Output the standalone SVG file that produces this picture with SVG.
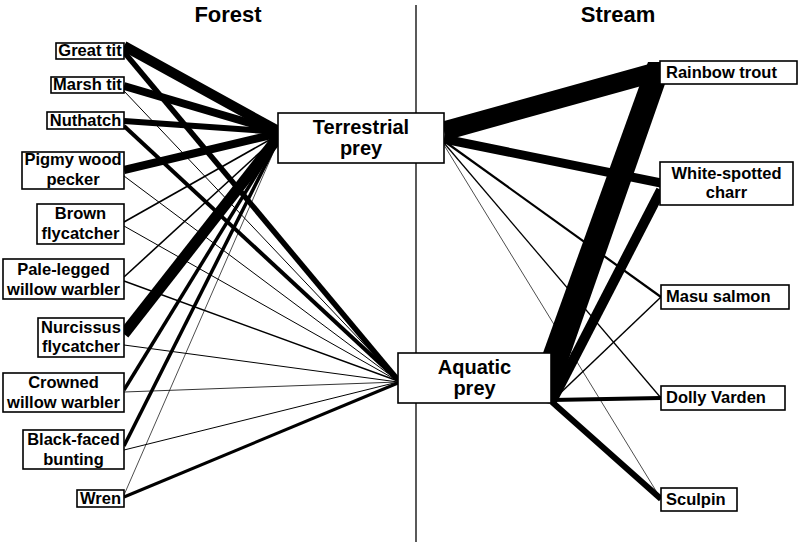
<svg xmlns="http://www.w3.org/2000/svg" width="800" height="548" viewBox="0 0 800 548">
<style>
.bx{fill:#fff;stroke:#000;stroke-width:1.6}
.t{font-family:"Liberation Sans",Arial,sans-serif;font-weight:bold;font-size:16.5px;fill:#000}
.c{text-anchor:middle}
.h{font-family:"Liberation Sans",Arial,sans-serif;font-weight:bold;font-size:22px;text-anchor:middle}
.p{font-family:"Liberation Sans",Arial,sans-serif;font-weight:bold;font-size:20px;text-anchor:middle}
#links line{stroke:#000;stroke-linecap:butt}
</style>
<rect width="800" height="548" fill="#fff"/>
<text class="h" x="228" y="22">Forest</text>
<text class="h" x="618" y="22">Stream</text>
<line x1="416" y1="5" x2="416" y2="542" stroke="#000" stroke-width="1.3"/>
<g id="links">
<!-- to Terrestrial -->
<line x1="124" y1="46" x2="280" y2="132" stroke-width="10"/>
<line x1="124" y1="86" x2="280" y2="132" stroke-width="8"/>
<line x1="124" y1="121" x2="280" y2="132" stroke-width="6"/>
<line x1="124" y1="170" x2="280" y2="133" stroke-width="8"/>
<line x1="124" y1="222" x2="280" y2="134" stroke-width="1.6"/>
<line x1="124" y1="277" x2="280" y2="134" stroke-width="1.6"/>
<line x1="124" y1="334" x2="280" y2="135" stroke-width="11"/>
<line x1="124" y1="390" x2="280" y2="136" stroke-width="3.5"/>
<line x1="124" y1="446" x2="280" y2="136" stroke-width="3.5"/>
<line x1="124" y1="495" x2="280" y2="137" stroke-width="0.7"/>
<!-- to Aquatic -->
<line x1="124" y1="52" x2="398" y2="380" stroke-width="5.5"/>
<line x1="124" y1="91" x2="398" y2="380" stroke-width="1"/>
<line x1="124" y1="126" x2="398" y2="380" stroke-width="4"/>
<line x1="124" y1="176" x2="398" y2="381" stroke-width="1"/>
<line x1="124" y1="226" x2="398" y2="381" stroke-width="1"/>
<line x1="124" y1="281" x2="398" y2="381" stroke-width="1.4"/>
<line x1="124" y1="345" x2="398" y2="382" stroke-width="1"/>
<line x1="124" y1="392" x2="398" y2="382" stroke-width="0.8"/>
<line x1="124" y1="450" x2="398" y2="382" stroke-width="1"/>
<line x1="124" y1="497" x2="398" y2="383" stroke-width="3"/>
<!-- Terrestrial to fish -->
<line x1="444" y1="131" x2="656" y2="72" stroke-width="19"/>
<line x1="444" y1="139" x2="661" y2="183" stroke-width="9"/>
<line x1="444" y1="141" x2="661" y2="297" stroke-width="2.2"/>
<line x1="444" y1="143" x2="661" y2="398" stroke-width="1.3"/>
<line x1="444" y1="145" x2="661" y2="499" stroke-width="0.7"/>
<!-- Aquatic to fish -->
<polygon points="526,400 553,404 665,84 660,62 648,62" fill="#000"/>
<line x1="552" y1="401" x2="661" y2="190" stroke-width="10"/>
<line x1="552" y1="401" x2="661" y2="297" stroke-width="1.5"/>
<line x1="552" y1="400" x2="661" y2="398" stroke-width="4"/>
<line x1="552" y1="402" x2="661" y2="499" stroke-width="6"/>
</g>
<g id="great-tit"><rect class="bx" x="56" y="43" width="68" height="16"/><text class="t c" x="90" y="56">Great tit</text></g>
<g id="marsh-tit"><rect class="bx" x="51" y="77" width="73" height="16"/><text class="t c" x="87.5" y="90">Marsh tit</text></g>
<g id="nuthatch"><rect class="bx" x="47" y="112" width="77" height="17"/><text class="t c" x="85.5" y="126">Nuthatch</text></g>
<g id="pigmy"><rect class="bx" x="22" y="152" width="102" height="37"/><text class="t c" x="73" y="165">Pigmy wood</text><text class="t c" x="73" y="185">pecker</text></g>
<g id="brown"><rect class="bx" x="37" y="204" width="87" height="40"/><text class="t c" x="80.5" y="219">Brown</text><text class="t c" x="80.5" y="239">flycatcher</text></g>
<g id="pale"><rect class="bx" x="3" y="259" width="121" height="40"/><text class="t c" x="63.5" y="275">Pale-legged</text><text class="t c" x="63.5" y="295">willow warbler</text></g>
<g id="nurcissus"><rect class="bx" x="38" y="318" width="86" height="39"/><text class="t c" x="81" y="333">Nurcissus</text><text class="t c" x="81" y="352">flycatcher</text></g>
<g id="crowned"><rect class="bx" x="3" y="373" width="121" height="39"/><text class="t c" x="63.5" y="388">Crowned</text><text class="t c" x="63.5" y="408">willow warbler</text></g>
<g id="blackfaced"><rect class="bx" x="23" y="430" width="101" height="39"/><text class="t c" x="73.5" y="445">Black-faced</text><text class="t c" x="73.5" y="465">bunting</text></g>
<g id="wren"><rect class="bx" x="77" y="490" width="47" height="17"/><text class="t c" x="100.5" y="504">Wren</text></g>
<g id="terrestrial"><rect class="bx" x="278" y="113" width="166" height="50"/><text class="p" x="361" y="134">Terrestrial</text><text class="p" x="361" y="155">prey</text></g>
<g id="aquatic"><rect class="bx" x="398" y="353" width="153" height="50"/><text class="p" x="474.5" y="374">Aquatic</text><text class="p" x="474.5" y="395">prey</text></g>
<g id="rainbow"><rect class="bx" x="660" y="61" width="137" height="23"/><text class="t" x="666" y="78">Rainbow trout</text></g>
<g id="charr"><rect class="bx" x="660" y="162" width="133" height="43"/><text class="t c" x="726.5" y="179">White-spotted</text><text class="t c" x="726.5" y="198">charr</text></g>
<g id="masu"><rect class="bx" x="661" y="285" width="128" height="24"/><text class="t" x="666" y="302">Masu salmon</text></g>
<g id="dolly"><rect class="bx" x="661" y="386" width="124" height="24"/><text class="t" x="666" y="403">Dolly Varden</text></g>
<g id="sculpin"><rect class="bx" x="661" y="488" width="76" height="23"/><text class="t" x="666" y="505">Sculpin</text></g>
</svg>
